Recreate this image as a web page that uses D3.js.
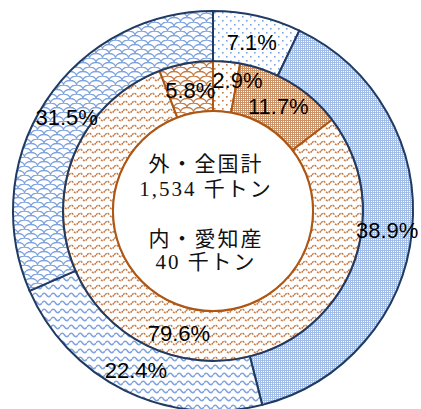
<!DOCTYPE html>
<html><head><meta charset="utf-8">
<script src="https://cdn.jsdelivr.net/npm/d3@7"></script>
<style>html,body{margin:0;padding:0;background:#fff;}</style>
</head><body>
<div id="chart"></div>
<script>
// ---- data ----
const outerLabels = ["7.1%", "38.9%", "22.4%", "31.5%"];
const outerValues = [7.1, 38.9, 22.4, 31.5];          // 全国計 1,534 千トン
const innerLabels = ["2.9%", "11.7%", "79.6%", "5.8%"];
const innerValues = [2.9, 11.7, 79.6, 5.8];           // 愛知産 40 千トン
const centerLines = ["外・全国計", "1,534 千トン", "内・愛知産", "40 千トン"];
const patternKinds = ["dots", "check", "wave", "shingle"];

// ---- layout ----
const W = 421, H = 409, cx = 213, cy = 211;
const rOuter = 200, rMid = 150, rInner = 100;
const NAVY = "#1F3A63", BROWN = "#AE5614";
const BLUE = "#7FA3DC", BROWN_FG = "#C27B46";
const BLUE_CHECK = "#A2BDE7", BROWN_CHECK = "#CC9268";

const svg = d3.select("#chart").append("svg").attr("width", W).attr("height", H);
const defs = svg.append("defs");

function makePatterns(prefix, fg, checkFg) {
  // dots
  let p = defs.append("pattern").attr("id", prefix + "dots").attr("patternUnits", "userSpaceOnUse")
    .attr("width", 8).attr("height", 8);
  p.append("rect").attr("width", 8).attr("height", 8).attr("fill", "#fff");
  p.append("rect").attr("x", 1).attr("y", 1).attr("width", 1.6).attr("height", 1.6).attr("fill", fg);
  p.append("rect").attr("x", 5).attr("y", 5).attr("width", 1.6).attr("height", 1.6).attr("fill", fg);
  // fine check
  p = defs.append("pattern").attr("id", prefix + "check").attr("patternUnits", "userSpaceOnUse")
    .attr("width", 2).attr("height", 2);
  p.append("rect").attr("width", 2).attr("height", 2).attr("fill", checkFg);
  p.append("rect").attr("width", 1).attr("height", 1).attr("fill", "#fff");
  // wave
  p = defs.append("pattern").attr("id", prefix + "wave").attr("patternUnits", "userSpaceOnUse")
    .attr("width", 9).attr("height", 8);
  p.append("rect").attr("width", 9).attr("height", 8).attr("fill", "#fff");
  p.append("path").attr("d", "M0,4 Q2.25,0.5 4.5,4 T9,4").attr("fill", "none").attr("stroke", fg)
    .attr("stroke-width", 1.5).attr("stroke-dasharray", prefix === "br" ? "2.2 1" : null);
  // shingle
  p = defs.append("pattern").attr("id", prefix + "shingle").attr("patternUnits", "userSpaceOnUse")
    .attr("width", 13).attr("height", 9);
  p.append("rect").attr("width", 13).attr("height", 9).attr("fill", "#fff");
  p.append("path").attr("d", "M0,4.5 A6.5,4.5 0 0,1 13,4.5 M-6.5,9 A6.5,4.5 0 0,1 6.5,9 M6.5,9 A6.5,4.5 0 0,1 19.5,9 M-6.5,0 A6.5,4.5 0 0,1 6.5,0")
    .attr("fill", "none").attr("stroke", fg).attr("stroke-width", 1.3);
}
makePatterns("bl", BLUE, BLUE_CHECK);
makePatterns("br", BROWN_FG, BROWN_CHECK);

const g = svg.append("g").attr("transform", `translate(${cx},${cy})`);
const pie = d3.pie().sort(null).value(d => d);

const outerArc = d3.arc().innerRadius(rMid).outerRadius(rOuter);
const innerArc = d3.arc().innerRadius(rInner).outerRadius(rMid);
const outerLabelArc = d3.arc().innerRadius(175).outerRadius(175);
const innerLabelArc = d3.arc().innerRadius(125).outerRadius(125);

const innerPie = pie(innerValues);
const outerPie = pie(outerValues);

g.selectAll("path.inner").data(innerPie).join("path").attr("class", "inner")
  .attr("d", innerArc).attr("fill", (d, i) => `url(#br${patternKinds[i]})`)
  .attr("stroke", BROWN).attr("stroke-width", 2);
g.append("circle").attr("r", rInner).attr("fill", "#fff").attr("stroke", BROWN).attr("stroke-width", 2);

g.selectAll("path.outer").data(outerPie).join("path").attr("class", "outer")
  .attr("d", outerArc).attr("fill", (d, i) => `url(#bl${patternKinds[i]})`)
  .attr("stroke", NAVY).attr("stroke-width", 2);

// label nudges (manual moves in the original)
const innerNudge = [[13, -8], [0, 0], [0, 0], [0, 0]];

const font = "'Liberation Sans', Arial, sans-serif";
g.selectAll("text.ol").data(outerPie).join("text").attr("class", "ol")
  .attr("transform", d => { const c = outerLabelArc.centroid(d); return `translate(${c[0]},${c[1] + 2})`; })
  .attr("text-anchor", "middle").attr("dominant-baseline", "central")
  .attr("font-family", font).attr("font-size", 22).attr("fill", "#000")
  .text((d, i) => outerLabels[i]);
g.selectAll("text.il").data(innerPie).join("text").attr("class", "il")
  .attr("transform", (d, i) => { const c = innerLabelArc.centroid(d); return `translate(${c[0] + innerNudge[i][0]},${c[1] + 2 + innerNudge[i][1]})`; })
  .attr("text-anchor", "middle").attr("dominant-baseline", "central")
  .attr("font-family", font).attr("font-size", 22).attr("fill", "#000")
  .text((d, i) => innerLabels[i]);

const lineY = [-47, -22, 28, 51];
g.selectAll("text.ct").data(centerLines).join("text").attr("class", "ct")
  .attr("x", -7).attr("y", (d, i) => lineY[i])
  .attr("text-anchor", "middle").attr("dominant-baseline", "central")
  .attr("font-family", "'Liberation Serif', 'Noto Sans CJK JP', serif")
  .attr("font-size", 21).attr("letter-spacing", 2).attr("fill", "#111")
  .text(d => d);
</script>
</body></html>
